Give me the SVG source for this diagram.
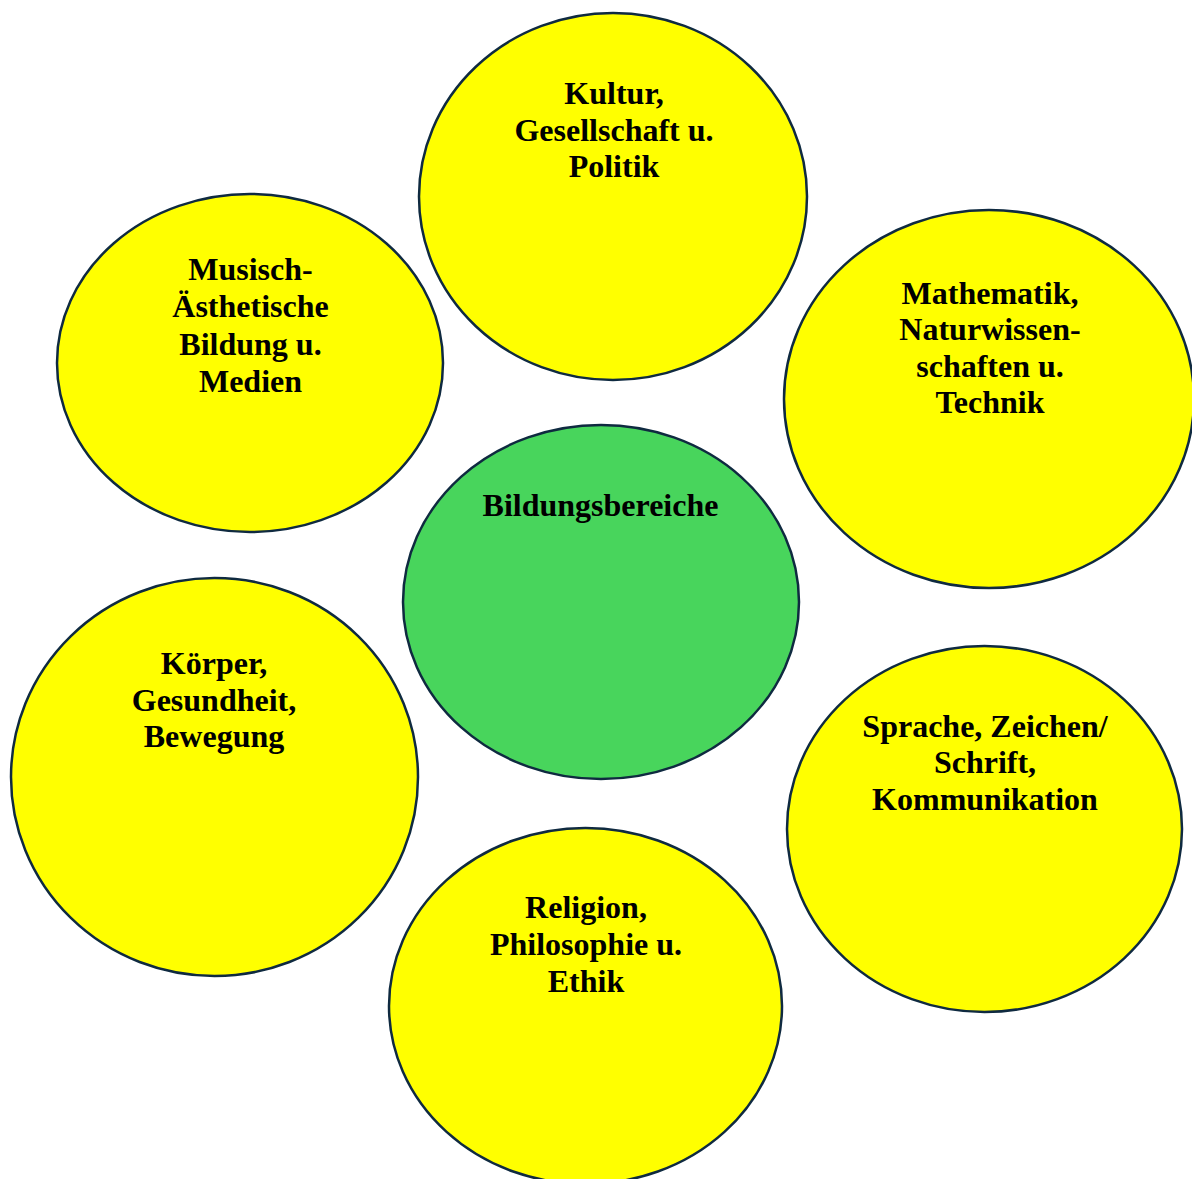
<svg xmlns="http://www.w3.org/2000/svg" width="1192" height="1179" viewBox="0 0 1192 1179">
<style>
.n{stroke:#0f2a40;stroke-width:2.5}
.y{fill:#ffff00}
.g{fill:#48d55c}
text{font-family:"Liberation Serif","Times New Roman",serif;font-weight:bold;font-size:32px;fill:#000;text-anchor:middle}
</style>
<rect width="1192" height="1179" fill="#fff"/>
<g id="connectors"></g>
<g id="kultur">
<ellipse class="n y" cx="613" cy="196.5" rx="194" ry="183.5"/>
<text x="614" y="104">Kultur,</text>
<text x="614" y="141">Gesellschaft u.</text>
<text x="614" y="177">Politik</text>
</g>
<g id="musisch">
<ellipse class="n y" cx="250" cy="363" rx="193" ry="169"/>
<text x="250.5" y="280">Musisch-</text>
<text x="250.5" y="317">Ästhetische</text>
<text x="250.5" y="355">Bildung u.</text>
<text x="250.5" y="392">Medien</text>
</g>
<g id="mathematik">
<ellipse class="n y" cx="989" cy="399" rx="205" ry="189"/>
<text x="990" y="304">Mathematik,</text>
<text x="990" y="340">Naturwissen-</text>
<text x="990" y="377">schaften u.</text>
<text x="990" y="413">Technik</text>
</g>
<g id="bildungsbereiche">
<ellipse class="n g" cx="601" cy="602" rx="198" ry="177"/>
<text x="600.5" y="516">Bildungsbereiche</text>
</g>
<g id="koerper">
<ellipse class="n y" cx="214.5" cy="777" rx="203.5" ry="199"/>
<text x="214" y="674">Körper,</text>
<text x="214" y="711">Gesundheit,</text>
<text x="214" y="747">Bewegung</text>
</g>
<g id="sprache">
<ellipse class="n y" cx="984.5" cy="829" rx="197.5" ry="183"/>
<text x="985" y="737">Sprache, Zeichen/</text>
<text x="985" y="773">Schrift,</text>
<text x="985" y="810">Kommunikation</text>
</g>
<g id="religion">
<ellipse class="n y" cx="585.5" cy="1006" rx="196.5" ry="178"/>
<text x="586" y="918">Religion,</text>
<text x="586" y="955">Philosophie u.</text>
<text x="586" y="992">Ethik</text>
</g>
</svg>
